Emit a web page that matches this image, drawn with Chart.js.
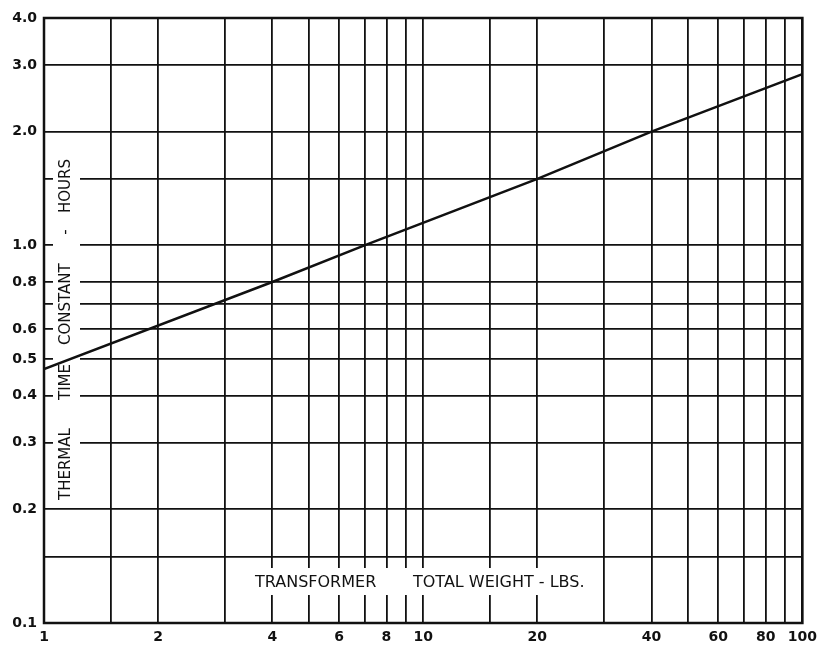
<!DOCTYPE html>
<html>
<head>
<meta charset="utf-8">
<script src="https://cdn.jsdelivr.net/npm/chart.js@4"></script>
<style>
  html, body { margin: 0; background: #fff; }
  #wrap { width: 823px; height: 646px; }
</style>
</head>
<body>
<div id="wrap"><canvas id="chart"></canvas></div>
<script>
// curve (weight in lbs, time constant in hours)
const weights = [1, 4, 7, 20, 40, 100];
const timeConstants = [0.47, 0.8, 1.0, 1.5, 2.0, 2.84];

// grid lines and which of them carry a label
const xGrid = [1, 1.5, 2, 3, 4, 5, 6, 7, 8, 9, 10, 15, 20, 30, 40, 50, 60, 70, 80, 90, 100];
const xLabels = [1, 2, 4, 6, 8, 10, 20, 40, 60, 80, 100];
const yGrid = [0.1, 0.15, 0.2, 0.3, 0.4, 0.5, 0.6, 0.7, 0.8, 1, 1.5, 2, 3, 4];
const yLabels = [0.1, 0.2, 0.3, 0.4, 0.5, 0.6, 0.8, 1, 2, 3, 4];

const xTitle = ["TRANSFORMER", "TOTAL WEIGHT - LBS."];
const yTitle = ["THERMAL", "TIME", "CONSTANT", "-", "HOURS"];

const ink = "#111";
const tickFont = { family: "DejaVu Sans", size: 14, weight: "bold" };

//titles sit inside the plot with white gaps in the grid behind them
const titlePlugin = {
  id: "titles",
  beforeDatasetsDraw(chart) {
    const c = chart.ctx, a = chart.chartArea;
    c.save();
    c.fillStyle = "#fff";
    // x title gap
    c.fillRect(a.left + 206, a.bottom - 55, 350, 27);
    // y title gap
    c.fillRect(a.left + 9, a.top + 138, 27, 345);
    c.restore();
  },
  afterDraw(chart) {
    const c = chart.ctx, a = chart.chartArea;
    c.save();
    c.fillStyle = ink;
    c.font = "16px 'DejaVu Sans'";
    c.textBaseline = "middle";
    c.textAlign = "left";
    c.fillText(xTitle[0], a.left + 211, a.bottom - 40);
    c.fillText(xTitle[1], a.left + 369, a.bottom - 40);
    // y title, rotated, words placed bottom to top
    c.font = "15px 'DejaVu Sans'";
    c.translate(a.left + 22, 0);
    c.rotate(-Math.PI / 2);
    const starts = [500, 400, 345, 232, 213];
    yTitle.forEach((w, i) => {
      c.textAlign = i === 3 ? "center" : "left";
      c.fillText(w, -starts[i], 0);
    });
    c.restore();
    // heavy frame
    c.save();
    c.strokeStyle = ink;
    c.lineWidth = 2.5;
    c.strokeRect(a.left, a.top, a.right - a.left, a.bottom - a.top);
    c.restore();
  }
};

new Chart(document.getElementById("chart"), {
  type: "scatter",
  plugins: [titlePlugin],
  data: {
    datasets: [{
      data: weights.map((w, i) => ({ x: w, y: timeConstants[i] })),
      showLine: true,
      borderColor: ink,
      borderWidth: 2.5,
      pointRadius: 0,
      tension: 0
    }]
  },
  options: {
    responsive: true,
    maintainAspectRatio: false,
    animation: false,
    layout: { padding: { top: 18, right: 20, left: 0, bottom: 0 } },
    plugins: { legend: { display: false }, tooltip: { enabled: false } },
    scales: {
      x: {
        type: "logarithmic",
        min: 1, max: 100,
        afterBuildTicks: (axis) => { axis.ticks = xGrid.map(v => ({ value: v })); },
        afterFit: (axis) => { axis.height = 23; },
        ticks: {
          autoSkip: false, maxRotation: 0, padding: 6,
          color: ink, font: tickFont,
          callback: (v) => xLabels.includes(v) ? String(v) : ""
        },
        grid: { color: ink, lineWidth: 1.8, drawTicks: false },
        border: { display: false }
      },
      y: {
        type: "logarithmic",
        min: 0.1, max: 4,
        afterBuildTicks: (axis) => { axis.ticks = yGrid.map(v => ({ value: v })); },
        afterFit: (axis) => { axis.width = 44; },
        ticks: {
          autoSkip: false, padding: 7,
          color: ink, font: tickFont,
          callback: (v) => yLabels.includes(v) ? v.toFixed(1) : ""
        },
        grid: { color: ink, lineWidth: 1.8, drawTicks: false },
        border: { display: false }
      }
    }
  }
});
</script>
</body>
</html>
